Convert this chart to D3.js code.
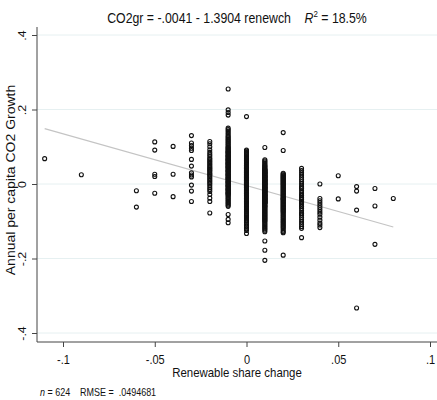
<!DOCTYPE html>
<html>
<head>
<meta charset="utf-8">
<style>
  body { margin: 0; background: #fff; }
  svg { display: block; font-family: "Liberation Sans", Arial, sans-serif; }
  text { white-space: pre; }
</style>
</head>
<body>
<div id="chart"></div>
<script src="https://cdn.jsdelivr.net/npm/d3@7"></script>
<script>
// renewable share change, one value per column of points
colX = [-0.11, -0.09, -0.06, -0.05, -0.04, -0.03, -0.02, -0.01, 0, 0.01, 0.02, 0.03, 0.04, 0.05, 0.06, 0.07, 0.08];
// CO2 growth for each column, in thousandths
colY = [
  [68],
  [25],
  [-18, -62],
  [113, 91, 26, 20, -25],
  [101, 26, -34],
  [130, 110, 103, 96, 90, 66, 48, 30, 24, 19, -3, -19, -47],
  [114, 108, 100, 92, 85, 80, 75, 70, 66, 62, 58, 54, 50, 46, 43, 40, 37, 34, 30, 27, 24, 20, 16, 12, 8, 4, 0, -5, -10, -15, -20, -28, -38, -47, -78],
  [255, 199, 192, 185, 150, 146, 142, 138, 134, 130, 127, 124, 121, 118, 115, 112, 109, 106, 103, 100,
   98, 96, 94, 92, 90, 88, 86, 84, 82, 80, 78, 76, 74, 72, 70, 68, 66, 64, 62, 60, 58, 56, 54, 52, 50,
   48, 46, 44, 42, 40, 38, 36, 34, 32, 30, 28, 26, 24, 22, 20, 18, 16, 14, 12, 10, 8, 6, 4, 2, 0,
   -2, -4, -6, -8, -10, -12, -14, -16, -18, -20, -22, -24, -26, -28, -30, -33, -36, -39, -42, -45,
   -48, -51, -54, -57, -60, -82, -95, -104, 25, 15, 5, -5, 35, 45, 55, 65, -15, -25, 75, 85],
  [181, 91, 88, 85, 82, 79, 76, 73, 70, 68, 66, 64, 62, 60, 58, 56, 54, 52, 50, 49, 48, 47, 46, 45,
   44, 43, 42, 41, 40, 39, 38, 37, 36, 35, 34, 33, 32, 31, 30, 29, 28, 27, 26, 25, 24, 23, 22, 21, 20,
   19, 18, 17, 16, 15, 14, 13, 12, 11, 10, 9, 8, 7, 6, 5, 4, 3, 2, 1, 0, -1, -2, -3, -4, -5, -6, -7,
   -8, -9, -10, -11, -12, -13, -14, -15, -16, -17, -18, -19, -20, -21, -22, -23, -24, -25, -26, -27,
   -28, -29, -30, -32, -34, -36, -38, -40, -42, -44, -46, -48, -50, -52, -54, -56, -58, -60, -62, -64,
   -66, -68, -70, -73, -76, -79, -82, -85, -88, -91, -94, -97, -100, -104, -108, -112, -116, -120,
   -125, -133, 45, 40, 35, 30, 25, 20, 15, 10, 5, 0, -5, -10, -15, -20, -25, -8, -3, 2, 7, 12, 17, 22, 27, 32,
   50, 40, 30, 20, 10, 0, -10, -20, -30, -40],
  [98, 65, 62, 59, 56, 53, 50, 48, 46, 44, 42, 40, 38, 36, 34, 32, 30, 28, 26, 24, 22, 20, 18, 16, 14,
   12, 10, 8, 6, 4, 2, 0, -2, -4, -6, -8, -10, -12, -14, -16, -18, -20, -22, -24, -26, -28, -30, -32,
   -34, -36, -38, -40, -42, -44, -46, -48, -50, -52, -54, -56, -58, -60, -62, -64, -66, -68, -70, -72,
   -74, -76, -78, -80, -82, -84, -86, -88, -90, -92, -94, -96, -98, -100, -103, -106, -109, -112, -115,
   -118, -121, -124, -128, -153, -178, -205, 39, 37, 35, 33, 31, 29, 27, 25, 23, 21, 19, 17, 15, 13, 11,
   9, 7, 5, 3, 1, -1, -3, -5, -7, -9, -11, -13, -15, -17, -19, -21, -23, -25, -27, -29, -31, -33, -35,
   -37, -39, -41, -43, -45, -47, -49, -51, 30, 20, 10, 0, -10, -20, -30, -40, -50, -60],
  [138, 90, 29, 27, 25, 23, 21, 19, 17, 15, 13, 11, 9, 7, 5, 3, 1, -1, -3, -5, -7, -9, -11, -13, -15,
   -17, -19, -21, -23, -25, -27, -29, -31, -33, -35, -37, -39, -41, -43, -45, -47, -49, -51, -53, -55,
   -57, -59, -61, -63, -65, -67, -69, -71, -73, -75, -78, -81, -84, -87, -90, -93, -96, -99, -102, -105,
   -108, -111, -114, -117, -120, -124, -128, -131, -191, -40],
  [42, 36, 30, 24, 18, 12, 6, 0, -6, -12, -18, -24, -30, -36, -42, -48, -54, -60, -66, -72, -78, -84,
   -90, -96, -102, -108, -114, -119, -144, -40, -60, -80, -10, -30, -50],
  [0, -39, -45, -51, -57, -63, -69, -75, -81, -89, -97, -105, -110, -117],
  [22, -40],
  [-7, -19, -70, -333],
  [-12, -59, -162],
  [-39]
];

coef = [-0.0041, -1.3904];   // intercept, slope
r2 = 18.5;
rmse = ".0494681";

xTicks = [-0.1, -0.05, 0, 0.05, 0.1];
xTickLabels = ["-.1", "-.05", "0", ".05", ".1"];
yTicks = [-0.4, -0.2, 0, 0.2, 0.4];
yTickLabels = ["-.4", "-.2", "0", ".2", ".4"];

points = [];
colX.forEach((cx, i) => colY[i].forEach(v => points.push({x: cx, y: v / 1000})));

width = 437;
height = 400;
plot = {left: 37, right: 437, top: 27, bottom: 342};
squeeze = 0.88;  // text in the picture is narrower than it is tall

x = d3.scaleLinear().domain([-0.1, 0.1]).range([63, 430]);
y = d3.scaleLinear().domain([-0.4, 0.4]).range([333, 35]);

// stata style numbers: -.0041, 1.3904
stataNum = v => d3.format(".4f")(v).replace("−", "-").replace(/^(-?)0\./, "$1.");

svg = d3.select("#chart").append("svg")
    .attr("width", width)
    .attr("height", height);

svg.append("rect").attr("width", width).attr("height", height).attr("fill", "#fff");

// grid
svg.append("g")
  .selectAll("line")
  .data(yTicks)
  .join("line")
    .attr("x1", plot.left)
    .attr("x2", plot.right)
    .attr("y1", d => y(d))
    .attr("y2", d => y(d))
    .attr("stroke", "#e6f0f1")
    .attr("stroke-width", 1);

// fitted line
xr = d3.extent(points, d => d.x);
svg.append("path")
    .datum(xr)
    .attr("fill", "none")
    .attr("stroke", "#c4c4c4")
    .attr("stroke-width", 1.2)
    .attr("d", d3.line().x(d => x(d)).y(d => y(coef[0] + coef[1] * d)));

// points
svg.append("g")
  .selectAll("circle")
  .data(points)
  .join("circle")
    .attr("cx", d => x(d.x))
    .attr("cy", d => y(d.y))
    .attr("r", 2)
    .attr("fill", "none")
    .attr("stroke", "#111")
    .attr("stroke-width", 1.1);

// axes
gy = svg.append("g")
    .attr("transform", `translate(${plot.left},0)`)
    .call(d3.axisLeft(y).tickValues(yTicks).tickFormat((d, i) => yTickLabels[i]).tickSize(5).tickSizeOuter(0));
gy.select(".domain").remove();
gy.selectAll("line").attr("stroke", "#444");
gy.selectAll("text")
    .attr("x", null).attr("dy", null)
    .attr("text-anchor", "middle")
    .attr("font-size", 12.5)
    .attr("fill", "#111")
    .attr("transform", `translate(-11,0) rotate(-90) scale(1,${squeeze})`);

gx = svg.append("g")
    .attr("transform", `translate(0,${plot.bottom})`)
    .call(d3.axisBottom(x).tickValues(xTicks).tickFormat((d, i) => xTickLabels[i]).tickSize(5).tickSizeOuter(0));
gx.select(".domain").remove();
gx.selectAll("line").attr("stroke", "#444");
gx.selectAll("text")
    .attr("y", null).attr("dy", null)
    .attr("font-size", 12.5)
    .attr("fill", "#111")
    .attr("transform", `translate(0,22) scale(${squeeze},1)`);

svg.append("line")
    .attr("x1", plot.left).attr("x2", plot.left)
    .attr("y1", plot.top).attr("y2", plot.bottom)
    .attr("stroke", "#444");
svg.append("line")
    .attr("x1", plot.left).attr("x2", plot.right)
    .attr("y1", plot.bottom).attr("y2", plot.bottom)
    .attr("stroke", "#444");

// titles
midX = (plot.left + plot.right) / 2;

svg.append("text")
    .attr("transform", `translate(${midX},377) scale(${squeeze},1)`)
    .attr("text-anchor", "middle")
    .attr("font-size", 13)
    .attr("fill", "#111")
    .text("Renewable share change");

svg.append("text")
    .attr("transform", `translate(15,180) rotate(-90) scale(1,${squeeze})`)
    .attr("text-anchor", "middle")
    .attr("font-size", 14)
    .attr("fill", "#111")
    .text("Annual per capita CO2 Growth");

t = svg.append("text")
    .attr("transform", `translate(${midX},23) scale(${squeeze},1)`)
    .attr("text-anchor", "middle")
    .attr("font-size", 14)
    .attr("fill", "#111");
t.append("tspan").text(`CO2gr = ${stataNum(coef[0])} - ${stataNum(-coef[1])} renewch    `);
t.append("tspan").attr("font-style", "italic").text("R");
t.append("tspan").attr("font-size", 9).attr("dy", -6).text("2");
t.append("tspan").attr("dy", 6).text(` = ${r2}%`);

nt = svg.append("text")
    .attr("transform", `translate(40,396) scale(${squeeze},1)`)
    .attr("font-size", 10.2)
    .attr("fill", "#111");
nt.append("tspan").attr("font-style", "italic").text("n");
nt.append("tspan").text(` = ${points.length}    RMSE =  ${rmse}`);
</script>
</body>
</html>
